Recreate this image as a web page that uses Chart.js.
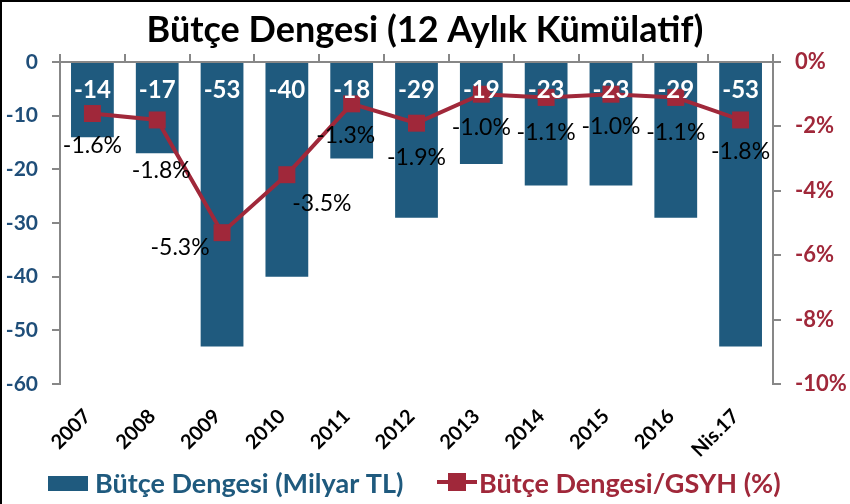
<!DOCTYPE html>
<html>
<head>
<meta charset="utf-8">
<script src="https://cdn.jsdelivr.net/npm/chart.js@4"></script>
<style>
  html, body { margin: 0; padding: 0; background: #fff; }
  #wrap { width: 850px; height: 504px; position: relative; }
</style>
</head>
<body>
<div id="wrap"><canvas id="myChart"></canvas></div>
<script>
// veriler
var years = ["2007", "2008", "2009", "2010", "2011", "2012", "2013", "2014", "2015", "2016", "Nis.17"];
var balance = [-14, -17, -53, -40, -18, -29, -19, -23, -23, -29, -53]; // Milyar TL
var ratio = [-1.6, -1.8, -5.3, -3.5, -1.3, -1.9, -1.0, -1.1, -1.0, -1.1, -1.8]; // GSYH %
var leftTicks = [0, -10, -20, -30, -40, -50, -60];
var rightTicks = [0, -2, -4, -6, -8, -10];

var FONT = "Lato, 'Open Sans', sans-serif";
var BLUE = "#1F5A7E";
var RED = "#A0283A";
var AXIS = "#878787";

// etiketlerin küçük kaydırmaları (Excel'de elle taşınmış)
var labelNudge = [[0, 0], [4, 19], [-42, -17], [35, -3], [-6, 0], [0, 2], [0, 1], [0, 3], [0, 0], [0, 3], [0, 0]];

var labelPlugin = {
  id: "labels",
  afterDatasetsDraw: function (chart) {
    var ctx = chart.ctx;
    var barMeta = chart.getDatasetMeta(0);
    var lineMeta = chart.getDatasetMeta(1);
    var zeroY = chart.scales.y.getPixelForValue(0);
    ctx.save();
    ctx.textAlign = "center";
    ctx.textBaseline = "middle";
    ctx.font = "23px " + FONT;
    ctx.fillStyle = "#000";
    lineMeta.data.forEach(function (pt, i) {
      var n = labelNudge[i];
      ctx.fillText(ratio[i].toFixed(1) + "%", pt.x + n[0], pt.y + 32 + n[1]);
    });
    ctx.font = "bold 24px " + FONT;
    ctx.fillStyle = "#fff";
    barMeta.data.forEach(function (bar, i) {
      ctx.fillText(String(balance[i]), bar.x, zeroY + 28);
    });
    ctx.restore();
  },
  afterDraw: function (chart) {
    var ctx = chart.ctx;
    var xs = chart.scales.x;
    ctx.save();
    // yatay eksen etiketleri (45 derece)
    ctx.fillStyle = "#000";
    ctx.font = "bold 20px " + FONT;
    ctx.textAlign = "right";
    ctx.textBaseline = "middle";
    years.forEach(function (lab, i) {
      ctx.save();
      ctx.translate(xs.getPixelForTick(i) - 5, chart.chartArea.bottom + 29);
      ctx.rotate(-Math.PI / 4);
      ctx.fillText(lab, 0, 0);
      ctx.restore();
    });

    // başlık
    ctx.textAlign = "center";
    ctx.textBaseline = "middle";
    ctx.fillStyle = "#000";
    ctx.font = "bold 36px " + FONT;
    ctx.fillText("Bütçe Dengesi (12 Aylık Kümülatif)", 425, 30);

    // lejant
    ctx.textAlign = "left";
    ctx.font = "bold 27px " + FONT;
    ctx.fillStyle = BLUE;
    ctx.fillRect(48, 476, 40, 15);
    ctx.fillText("Bütçe Dengesi (Milyar TL)", 95, 484);

    ctx.strokeStyle = RED;
    ctx.lineWidth = 4;
    ctx.beginPath();
    ctx.moveTo(437, 482);
    ctx.lineTo(477, 482);
    ctx.stroke();
    ctx.fillStyle = RED;
    ctx.fillRect(448, 473, 18, 18);
    ctx.fillText("Bütçe Dengesi/GSYH (%)", 479, 484);

    // çerçeve
    ctx.strokeStyle = "#000";
    ctx.lineWidth = 2;
    ctx.beginPath();
    ctx.moveTo(1, 504);
    ctx.lineTo(1, 1);
    ctx.lineTo(850, 1);
    ctx.stroke();
    ctx.restore();
  }
};

var ctx = document.getElementById("myChart").getContext("2d");
var chart = new Chart(ctx, {
  type: "bar",
  data: {
    labels: years,
    datasets: [
      {
        type: "bar",
        label: "Bütçe Dengesi (Milyar TL)",
        data: balance,
        backgroundColor: BLUE,
        barPercentage: 0.66,
        categoryPercentage: 1,
        yAxisID: "y",
        order: 1,
      },
      {
        type: "line",
        label: "Bütçe Dengesi/GSYH (%)",
        data: ratio,
        borderColor: RED,
        backgroundColor: RED,
        borderWidth: 4,
        pointStyle: "rect",
        pointRadius: 12,
        pointBackgroundColor: RED,
        pointBorderWidth: 0,
        tension: 0,
        yAxisID: "y1",
        order: 0,
      },
    ],
  },
  options: {
    responsive: true,
    maintainAspectRatio: false,
    animation: false,
    devicePixelRatio: 1,
    layout: { padding: { top: 54, left: 0, right: 0, bottom: 0 } },
    plugins: {
      legend: { display: false },
      title: { display: false },
      tooltip: { enabled: false },
    },
    scales: {
      x: {
        position: "bottom",
        grid: { display: false },
        border: { display: false },
        ticks: { display: false },
        afterFit: function (s) { s.height = 120; },
      },
      xTop: {
        type: "category",
        position: "top",
        offset: true,
        grid: { drawOnChartArea: false, tickLength: 8, color: AXIS, lineWidth: 2, offset: true },
        border: { color: AXIS, width: 2 },
        ticks: { display: false },
      },
      y: {
        position: "left",
        min: -60,
        max: 0,
        afterBuildTicks: function (s) { s.ticks = leftTicks.map(function (v) { return { value: v }; }); },
        grid: { drawOnChartArea: false, tickLength: 8, color: AXIS, lineWidth: 2 },
        border: { color: AXIS, width: 2 },
        ticks: {
          padding: 14,
          color: "#1F4E79",
          font: { family: FONT, size: 21, weight: "bold" },
        },
        afterFit: function (s) { s.width = 60; },
      },
      y1: {
        position: "right",
        min: -10,
        max: 0,
        afterBuildTicks: function (s) { s.ticks = rightTicks.map(function (v) { return { value: v }; }); },
        grid: { drawOnChartArea: false, tickLength: 8, color: AXIS, lineWidth: 2 },
        border: { color: AXIS, width: 2 },
        ticks: {
          padding: 14,
          color: RED,
          font: { family: FONT, size: 22, weight: "bold" },
          callback: function (v) { return v + "%"; },
        },
        afterFit: function (s) { s.width = 77; },
      },
    },
  },
  plugins: [labelPlugin],
});
</script>
</body>
</html>
